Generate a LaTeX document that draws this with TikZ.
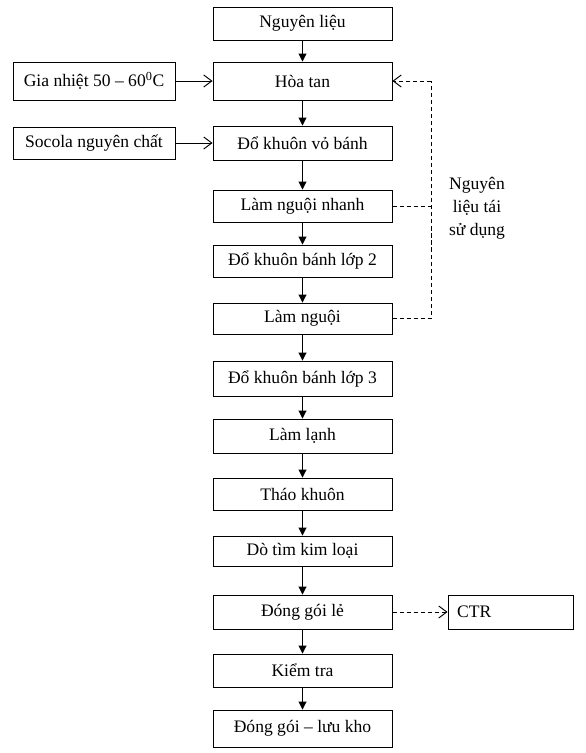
\documentclass[tikz,border=0pt]{standalone}
\usepackage{fontspec}
\setmainfont{Liberation Serif}
\usetikzlibrary{arrows.meta, positioning}

\begin{document}
\begin{tikzpicture}[x=0.03cm, y=-0.03cm,
    box/.style={draw, line width=0.8pt, minimum width=5.37cm, minimum height=1.02cm, inner sep=2pt, font=\fontsize{15}{19}\selectfont},
    sidebox/.style={box, minimum width=4.86cm},
    flow/.style={line width=0.8pt, -{Triangle[length=2.4mm,width=2.4mm]}},
    feed/.style={line width=0.8pt, -{Straight Barb[length=2.4mm,width=3.6mm]}},
    reuse/.style={line width=0.8pt, dash pattern=on 3.5pt off 2.5pt}]
    \useasboundingbox (0,0) rectangle (586,753);

    % Main process column
    \node[box, minimum height=0.99cm] (nguyenlieu) at (302.5,23.5) {Nguyên liệu};
    \node[box, minimum height=1.14cm] (hoatan) at (302.5,81) {Hòa tan};
    \node[box] (vobanh) at (302.5,143) {Đổ khuôn vỏ bánh};
    \node[box, minimum height=0.96cm] (nguoinhanh) at (302.5,206) {Làm nguội nhanh};
    \node[box, minimum height=0.96cm] (lop2) at (302.5,261) {Đổ khuôn bánh lớp 2};
    \node[box, minimum height=0.93cm] (lamnguoi) at (302.5,318.5) {Làm nguội};
    \node[box, minimum height=1.05cm] (lop3) at (302.5,378.5) {Đổ khuôn bánh lớp 3};
    \node[box] (lamlanh) at (302.5,436) {Làm lạnh};
    \node[box, minimum height=0.96cm] (thaokhuon) at (302.5,494) {Tháo khuôn};
    \node[box, minimum height=0.90cm] (dotim) at (302.5,551) {Dò tìm kim loại};
    \node[box] (donggoile) at (302.5,612) {Đóng gói lẻ};
    \node[box, minimum height=0.99cm] (kiemtra) at (302.5,670.5) {Kiểm tra};
    \node[box, minimum height=1.11cm] (luukho) at (302.5,728.5) {Đóng gói – lưu kho};

    % Side inputs and output
    \node[sidebox, minimum height=1.14cm] (gianhiet) at (94,81) {Gia nhiệt 50 – 60\textsuperscript{0}C};
    \node[sidebox, minimum height=0.96cm] (socola) at (94,143) {Socola nguyên chất};
    \node[box, minimum width=3.75cm, text width=3.2cm, align=left] (ctr) at (510.5,612) {CTR};

    % Reused material
    \node[font=\fontsize{15}{19.5}\selectfont, align=center] (taisudung) at (477,208) {Nguyên\\liệu tái\\sử dụng};
    \coordinate (reusetop) at (431,81);
    \coordinate (reusebot) at (431,318.5);

    % Flow arrows
    \foreach \a/\b in {nguyenlieu/hoatan, hoatan/vobanh, vobanh/nguoinhanh, nguoinhanh/lop2,
        lop2/lamnguoi, lamnguoi/lop3, lop3/lamlanh, lamlanh/thaokhuon, thaokhuon/dotim,
        dotim/donggoile, donggoile/kiemtra, kiemtra/luukho}
        \draw[flow] (\a) -- (\b);

    \draw[feed] (gianhiet) -- (hoatan);
    \draw[feed] (socola) -- (vobanh);

    \draw[reuse] (lamnguoi.east) -- (reusebot) -- (reusetop);
    \draw[reuse, -{Straight Barb[length=2.4mm,width=3.6mm]}] (reusetop) -- (hoatan.east);
    \draw[reuse] (nguoinhanh.east) -- (nguoinhanh.east -| reusetop);
    \draw[reuse, -{Straight Barb[length=2.4mm,width=3.6mm]}] (donggoile) -- (ctr);
\end{tikzpicture}
\end{document}
